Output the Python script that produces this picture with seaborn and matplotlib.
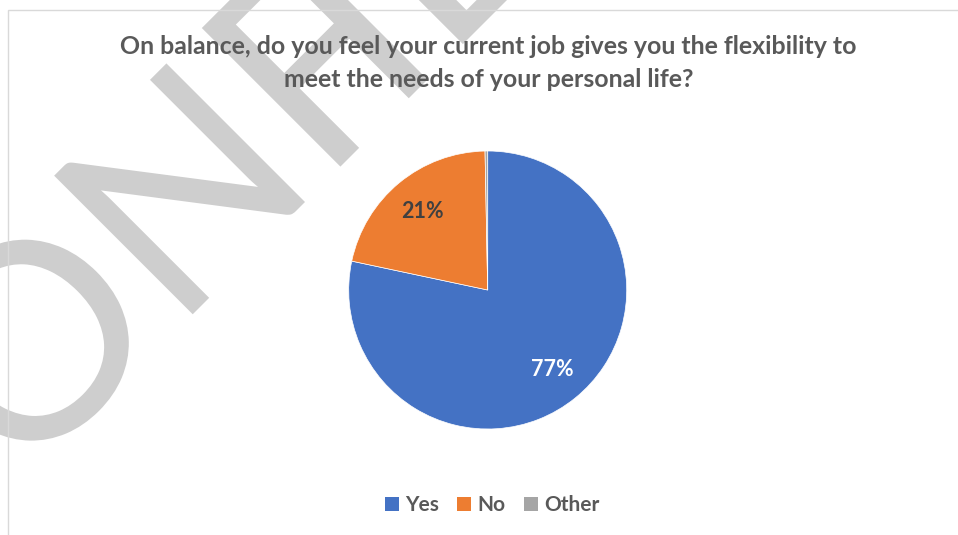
import numpy as np
import matplotlib
matplotlib.use("Agg")
import matplotlib.pyplot as plt
import seaborn as sns
from matplotlib.textpath import TextPath
from matplotlib.font_manager import FontProperties
from matplotlib.patches import PathPatch, Rectangle
from matplotlib.path import Path
from matplotlib.transforms import Affine2D, IdentityTransform

# Survey answers
categories = ["Yes", "No", "Other"]
shares = [77, 21, 0.3]
label_text = ["77%", "21%", ""]
title_lines = [
    "On balance, do you feel your current job gives you the flexibility to",
    "meet the needs of your personal life?",
]
watermark = "CONFIDENTIAL"

sns.set_theme(style="white")
plt.rcParams["font.family"] = ["Lato", "DejaVu Sans"]
palette = sns.color_palette(["#4472C4", "#ED7D31", "#A5A5A5"])
label_colors = ["white", "#404040", "#404040"]

W, H, DPI = 958, 535, 100
fig = plt.figure(figsize=(W / DPI, H / DPI), dpi=DPI)
fig.patch.set_facecolor("white")

# Diagonal watermark behind the chart (pixel coordinates)
fp = FontProperties(family="Lato", weight="normal")
probe = TextPath((0, 0), "N", size=100, prop=fp)
wm_size = 100 * 196 / probe.get_extents().height


def tpath(s):
    return TextPath((0, 0), s, size=wm_size, prop=fp)


head = tpath(watermark[:4])
tail = tpath(watermark[4:])
# tighter spacing before the second half of the word
i_x0 = tpath(watermark[:5]).get_extents().x1 - tpath(watermark[4]).get_extents().width
tail_shift = (i_x0 - 58) - tail.get_extents().x0
tail = Affine2D().translate(tail_shift, 0).transform_path(tail)
wm_path = Path.make_compound_path(head, tail)
n_right = tpath(watermark[:3]).get_extents().x1
wm_tr = Affine2D().translate(-n_right, 0).rotate_deg(45).translate(305, H - 202)
fig.add_artist(PathPatch(wm_tr.transform_path(wm_path), facecolor="#cecece",
                         edgecolor="none", transform=IdentityTransform(), zorder=-2))

# Chart frame
fig.add_artist(Rectangle((7.5, -30), W + 60, H - 9.5 + 30, facecolor="none",
                         edgecolor="#d9d9d9", linewidth=1.0,
                         transform=IdentityTransform(), zorder=-1))

# Pie
cx, cy, r = 487.7, 290, 139
ax = fig.add_axes([(cx - r) / W, (H - cy - r) / H, 2 * r / W, 2 * r / H])
wedges, _ = ax.pie(shares, colors=palette, startangle=90, counterclock=False,
                   wedgeprops=dict(edgecolor="white", linewidth=0.5))
ax.set_xlim(-1, 1)
ax.set_ylim(-1, 1)
ax.axis("off")
for w, txt, col in zip(wedges, label_text, label_colors):
    if not txt:
        continue
    ang = np.deg2rad((w.theta1 + w.theta2) / 2)
    ax.text(0.735 * np.cos(ang), 0.735 * np.sin(ang), txt, ha="center", va="center",
            color=col, fontsize=15.5, fontweight="bold")

# Title
for i, line in enumerate(title_lines):
    fig.text(488.5 / W, 1 - (54 + 33 * i) / H, line, ha="center", va="baseline",
             fontsize=17.9, fontweight="bold", color="#595959")

# Legend
handles = [Rectangle((0, 0), 1, 1, facecolor=c, edgecolor="none") for c in palette]
leg = fig.legend(handles, categories, loc="center", bbox_to_anchor=(492 / W, 1 - 505 / H),
                 ncol=3, frameon=False, handlelength=0.68, handleheight=0.68,
                 handletextpad=0.3, columnspacing=0.87,
                 prop=dict(weight="bold", size=15))
for t in leg.get_texts():
    t.set_color("#595959")

fig.savefig("out.png", dpi=DPI)
